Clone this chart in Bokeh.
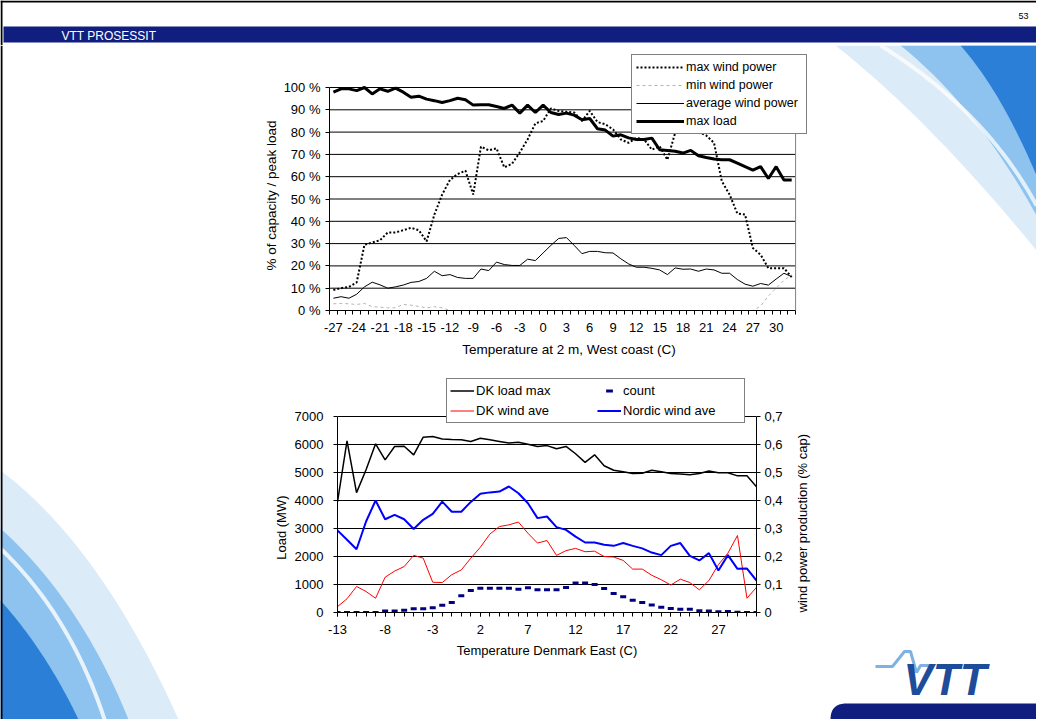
import math
import numpy as np
from bokeh.plotting import figure
from bokeh.models import Range1d, LinearAxis, FixedTicker, Legend, LegendItem, CustomJSTickFormatter, Title
from bokeh.layouts import column, row
from bokeh.embed import file_html
from bokeh.resources import INLINE
from bokeh.core.properties import value

FONT = "Liberation Sans"

# ---------------- Chart 1 data (West coast) ----------------
west_temps = list(range(-27, 33))
west_xticks = list(range(-27, 31, 3))
west_xlabels = [str(t) for t in west_xticks]
pct_ticks = list(range(0, 101, 10))
pct_labels = [f"{t} %" for t in pct_ticks]

max_wind = [9.2, 10, 10.6, 12.6, 29.5, 30.5, 31.5, 35, 35, 36,
            37.1, 36, 31, 43, 52, 58.5, 61.2, 62.7, 52, 73.5,
            71.8, 72.7, 64.2, 65.8, 70.9, 76.7, 83.9, 85, 90.6, 89.5,
            89.1, 88.8, 85, 89.5, 84.5, 83.5, 81.2, 76.7, 75.2, 77.4,
            76.7, 72.1, 73.6, 67.6, 79.7, 86, 84, 80, 78.5, 75.2,
            58, 52, 43.5, 43, 28, 25, 19, 19, 19, 15]
min_wind = [3.0, 3.2, 3.0, 2.7, 3.2, 1.7, 1.5, 1.2, 1.2, 2.7,
            2.4, 1.8, 1.2, 1.7, 1.2, 0, 0, 0, 0, 0,
            0, 0, 0, 0, 0, 0, 0, 0, 0, 0,
            0, 0, 0, 0, 0, 0, 0, 0, 0, 0,
            0, 0, 0, 0, 0, 0, 0, 0, 0, 0,
            0, 0, 0, 0, 0, 2, 6.5, 10, 13.5, 16]
avg_wind = [5.5, 6.2, 5.5, 7.3, 10.6, 12.7, 11.5, 10, 10.6, 11.4,
            12.6, 13, 14.4, 17.6, 15.6, 16.1, 14.8, 14.4, 14.4, 18.6,
            17.9, 21.7, 20.6, 20.2, 20.2, 23, 22.4, 25.8, 29.2, 32.3,
            32.7, 29.2, 25.5, 26.5, 26.5, 25.9, 25.8, 23.2, 20.9, 19.4,
            19.4, 18.9, 18.2, 16.1, 19.1, 18.5, 18.6, 17.6, 18.6, 18.2,
            16.7, 16.7, 13.9, 11.8, 10.9, 12.1, 11.4, 14.1, 16.7, 15.2]
max_load = [97.9, 99.4, 99.4, 98.6, 100, 97.1, 99.4, 98.3, 99.7, 97.9,
            95.6, 96.1, 94.8, 94.1, 93.3, 94.1, 95.2, 94.5, 92.1, 92.3,
            92.3, 91.5, 90.6, 92.1, 88.5, 92.1, 88.8, 92.1, 88.8, 87.9,
            88.5, 87.6, 85.5, 86.1, 81.5, 80.9, 78.2, 78.8, 77.4, 76.7,
            76.7, 77.3, 72.1, 71.8, 71.4, 70.6, 71.8, 69.4, 68.6, 67.9,
            67.6, 67.6, 66.1, 64.5, 63.0, 64.5, 59.2, 64.5, 58.5, 58.5]

# ---------------- Chart 2 data (Denmark East) ----------------
east_temps = list(range(-13, 32))
east_xticks = list(range(-13, 28, 5))
east_xlabels = [str(t) for t in east_xticks]
load_ticks = list(range(0, 7001, 1000))
load_labels = [str(t) for t in load_ticks]
cap_ticks = [0, 0.1, 0.2, 0.3, 0.4, 0.5, 0.6, 0.7]
cap_labels = ["0", "0,1", "0,2", "0,3", "0,4", "0,5", "0,6", "0,7"]

dk_load_max = [3950, 6130, 4280, 5100, 6024, 5452, 5930, 5940, 5630, 6260,
               6285, 6200, 6180, 6170, 6110, 6225, 6170, 6110, 6050, 6080,
               6010, 5930, 5960, 5850, 5930, 5670, 5360, 5630, 5240, 5080,
               5025, 4965, 4975, 5080, 5025, 4965, 4950, 4920, 4965, 5050,
               4990, 4990, 4880, 4880, 4490]
dk_wind_ave = [0.021, 0.049, 0.093, 0.075, 0.051, 0.126, 0.148, 0.164, 0.204, 0.194,
               0.108, 0.107, 0.135, 0.152, 0.194, 0.233, 0.28, 0.307, 0.313, 0.323,
               0.283, 0.248, 0.257, 0.204, 0.221, 0.229, 0.217, 0.219, 0.2, 0.198,
               0.186, 0.155, 0.155, 0.133, 0.117, 0.098, 0.119, 0.107, 0.081, 0.114,
               0.171, 0.212, 0.275, 0.051, 0.09]
nordic_wind_ave = [0.293, 0.26, 0.226, 0.325, 0.40, 0.333, 0.349, 0.333, 0.298, 0.331,
                   0.352, 0.396, 0.36, 0.36, 0.395, 0.424, 0.429, 0.432, 0.45, 0.426,
                   0.39, 0.337, 0.343, 0.305, 0.295, 0.271, 0.25, 0.25, 0.242, 0.238,
                   0.248, 0.238, 0.229, 0.214, 0.205, 0.238, 0.248, 0.202, 0.186, 0.212,
                   0.15, 0.205, 0.156, 0.157, 0.114]
count = [0, 0, 0, 0, 0, 50, 50, 80, 130, 130,
         170, 260, 360, 600, 790, 870, 870, 870, 870, 830,
         880, 810, 810, 810, 890, 1050, 1050, 1000, 860, 680,
         560, 440, 360, 270, 190, 140, 120, 120, 60, 50,
         25, 35, 10, 0, 0]


def style_axis(ax, size, title_size=None):
    ax.axis_line_color = "black"
    ax.axis_line_width = 1
    ax.major_label_text_font = FONT
    ax.major_label_text_font_size = size
    ax.major_label_text_color = "black"
    ax.axis_label_text_font = FONT
    ax.axis_label_text_font_size = title_size or size
    ax.axis_label_text_font_style = "normal"
    ax.axis_label_text_color = "black"
    ax.major_tick_line_color = "black"
    ax.minor_tick_line_color = "black"
    ax.major_tick_in = 0
    ax.minor_tick_in = 0


def qbez(p0, p1, p2, n=40):
    t = np.linspace(0, 1, n)
    x = (1 - t) ** 2 * p0[0] + 2 * (1 - t) * t * p1[0] + t ** 2 * p2[0]
    y = (1 - t) ** 2 * p0[1] + 2 * (1 - t) * t * p1[1] + t ** 2 * p2[1]
    return list(x), list(y)


def deco(width, height, x0, x1, y_top, y_bot):
    f = figure(width=width, height=height, x_range=Range1d(x0, x1), y_range=Range1d(y_bot, y_top),
               toolbar_location=None, output_backend="svg", min_border=0,
               x_axis_location=None, y_axis_location=None)
    f.grid.visible = False
    f.outline_line_color = None
    f.background_fill_color = "white"
    f.border_fill_color = "white"
    f.frame_align = False
    return f


W_TOTAL, H_TOTAL = 1036, 719
HDR_H = 45

# ---------------- Header ----------------
hdr = deco(W_TOTAL, HDR_H, 0, W_TOTAL, 0, HDR_H)
hdr.quad(left=3, right=W_TOTAL, top=26, bottom=42, fill_color="#101E80", line_color=None)
hdr.line([0, W_TOTAL], [1, 1], line_color="black", line_width=2)
hdr.line([1, 1], [0, HDR_H], line_color="black", line_width=2)
hdr.text(x=[61], y=[35], text=["VTT PROSESSIT"], text_font=value(FONT), text_font_size="12px",
         text_color="white", text_baseline="middle", text_align="left")
hdr.text(x=[1028], y=[15], text=["53"], text_font=value(FONT), text_font_size="9px",
         text_color="black", text_baseline="middle", text_align="right")

# ---------------- Left decoration ----------------
left = deco(260, H_TOTAL - HDR_H, 0, 260, HDR_H, H_TOTAL)
bx, by = qbez((178, 719), (100, 545), (0, 470))
left.patch([0] + bx + [0], [719] + by + [470], fill_color="#DCEBF8", line_color=None)
bx, by = qbez((128, 719), (80, 600), (0, 528))
left.patch([0] + bx + [0], [719] + by + [528], fill_color="#8DC3EE", line_color=None)
bx, by = qbez((78, 719), (45, 650), (0, 600))
left.patch([0] + bx + [0], [719] + by + [600], fill_color="#2C7FD6", line_color=None)
bx, by = qbez((0, 548), (70, 615), (104, 719))
left.line(bx, by, line_color="white", line_width=4, line_alpha=0.8)
left.line([1, 1], [HDR_H, H_TOTAL], line_color="black", line_width=2)

# ---------------- Right decoration ----------------
right = deco(W_TOTAL - 820, H_TOTAL - HDR_H, 820, W_TOTAL, HDR_H, H_TOTAL)
bx, by = qbez((W_TOTAL, 250), (930, 120), (835, 45))
right.patch(bx + [W_TOTAL], by + [45], fill_color="#DCEBF8", line_color=None)
bx, by = qbez((W_TOTAL, 215), (975, 105), (900, 45))
right.patch(bx + [W_TOTAL], by + [45], fill_color="#8DC3EE", line_color=None)
bx, by = qbez((W_TOTAL, 175), (1000, 90), (960, 45))
right.patch(bx + [W_TOTAL], by + [45], fill_color="#2C7FD6", line_color=None)
bx, by = qbez((880, 45), (985, 110), (W_TOTAL, 205))
right.line(bx, by, line_color="white", line_width=4, line_alpha=0.75)
bx, by = qbez((846, 703), (830, 703), (830, 719))
right.patch(bx + [W_TOTAL, W_TOTAL], by + [719, 703], fill_color="#101E80", line_color=None)
right.line([875, 892, 904, 910, 916, 920, 930], [666, 666, 651, 651, 672, 665, 665],
           line_color="#7FB2E3", line_width=3)
right.text(x=[903], y=[679], text=["VTT"], text_font=value(FONT), text_font_size="44px",
           text_font_style="bold italic", text_color="#1E4C9A", text_baseline="alphabetic")

# ---------------- Chart 1 ----------------
# plot area (px): left 326, right 795, top 87, bottom 310; frame extended to hold the legend
C1_W, C1_H = 560, 325
c1_left, c1_right, c1_top, c1_bot = 326, 795, 87, 310
c1_frame_right, c1_frame_top = 808, 53
x1_lo, x1_hi = west_temps[0] - 0.5, west_temps[-1] + 0.5
x1_end = x1_hi + (c1_frame_right - c1_right) * (x1_hi - x1_lo) / (c1_right - c1_left)
y1_end = 100 + (c1_top - c1_frame_top) * 100 / (c1_bot - c1_top)

p1 = figure(width=C1_W, height=C1_H, x_range=Range1d(x1_lo, x1_end), y_range=Range1d(0, y1_end),
            toolbar_location=None, output_backend="svg",
            min_border_left=c1_left - 260, min_border_right=820 - c1_frame_right,
            min_border_top=c1_frame_top - HDR_H, min_border_bottom=HDR_H + C1_H - c1_bot)
p1.frame_align = False
p1.background_fill_color = "white"
p1.border_fill_color = "white"
p1.outline_line_color = None
p1.grid.visible = False

xa = p1.xaxis[0]
style_axis(xa, "13px", "13.5px")
xa.bounds = (x1_lo, x1_hi)
xa.ticker = FixedTicker(ticks=west_xticks,
                        minor_ticks=[t - 0.5 for t in west_temps] + [x1_hi])
xa.major_label_overrides = dict(zip(west_xticks, west_xlabels))
xa.major_tick_out = 4
xa.major_tick_line_color = None
xa.minor_tick_out = 4
xa.major_label_standoff = 8
xa.axis_label = "Temperature at 2 m, West coast (C)"
xa.axis_label_standoff = 7

ya = p1.yaxis[0]
style_axis(ya, "13px", "13.5px")
ya.bounds = (0, 100)
ya.ticker = FixedTicker(ticks=pct_ticks)
ya.major_label_overrides = dict(zip(pct_ticks, pct_labels))
ya.major_tick_out = 4
ya.minor_tick_out = 0
ya.major_label_standoff = 5

# y-axis title, starting 40 px above the bottom of the plot area (reads upwards)
p1.add_layout(Title(text="% of capacity / peak load", align="left", offset=40,
                    standoff=3, text_font=FONT, text_font_size="13.5px",
                    text_font_style="normal", text_color="black"), "left")

# gridlines and right border of the plot area (from the tick list / category bounds)
grid_vals = pct_ticks[1:]
p1.segment(x0=[x1_lo] * len(grid_vals), x1=[x1_hi] * len(grid_vals), y0=grid_vals, y1=grid_vals,
           line_color="black", line_width=1)
p1.segment(x0=[x1_hi], x1=[x1_hi], y0=[0], y1=[100], line_color="#808080", line_width=1)

r_max = p1.line(west_temps, max_wind, line_color="black", line_width=2, line_dash="2 2")
r_min = p1.line(west_temps, min_wind, line_color="#b4b4b4", line_width=1, line_dash="3 3")
r_avg = p1.line(west_temps, avg_wind, line_color="black", line_width=1)
r_load = p1.line(west_temps, max_load, line_color="black", line_width=3)

leg1 = Legend(items=[LegendItem(label="max wind power", renderers=[r_max]),
                     LegendItem(label="min wind power", renderers=[r_min]),
                     LegendItem(label="average wind power", renderers=[r_avg]),
                     LegendItem(label="max load", renderers=[r_load])],
              location=(628 - c1_left, c1_bot - 134), orientation="vertical",
              padding=4, spacing=2, margin=0,
              label_height=16, glyph_height=16, glyph_width=48, label_standoff=2, label_width=116,
              label_text_font=FONT, label_text_font_size="12.5px", label_text_color="black",
              border_line_color="black", border_line_width=1,
              background_fill_color="white", background_fill_alpha=1)
p1.add_layout(leg1)

# ---------------- Chart 2 ----------------
C2_H = H_TOTAL - HDR_H - C1_H
c2_top0 = HDR_H + C1_H
c2_left, c2_right, c2_top, c2_bot = 337, 757, 416, 612
c2_frame_top = 378
y2_end = 7000 + (c2_top - c2_frame_top) * 7000 / (c2_bot - c2_top)
cap_end = 0.7 * y2_end / 7000

p2 = figure(width=560, height=C2_H, x_range=Range1d(east_temps[0], east_temps[-1]),
            y_range=Range1d(0, y2_end), toolbar_location=None, output_backend="svg",
            min_border_left=c2_left - 260, min_border_right=820 - c2_right,
            min_border_top=c2_frame_top - c2_top0, min_border_bottom=H_TOTAL - c2_bot)
p2.frame_align = False
p2.background_fill_color = "white"
p2.border_fill_color = "white"
p2.outline_line_color = None
p2.extra_y_ranges = {"cap": Range1d(0, cap_end)}
p2.xgrid.visible = False
p2.ygrid.ticker = FixedTicker(ticks=load_ticks)
p2.ygrid.grid_line_color = "black"

xb = p2.xaxis[0]
style_axis(xb, "13px")
xb.ticker = FixedTicker(ticks=east_xticks, minor_ticks=east_temps)
xb.major_label_overrides = dict(zip(east_xticks, east_xlabels))
xb.major_tick_out = 4
xb.minor_tick_out = 4
xb.major_label_standoff = 8
xb.axis_label = "Temperature Denmark East (C)"
xb.axis_label_standoff = 6

yb = p2.yaxis[0]
style_axis(yb, "13px")
yb.bounds = (0, 7000)
yb.ticker = FixedTicker(ticks=load_ticks)
yb.major_label_overrides = dict(zip(load_ticks, load_labels))
yb.major_tick_out = 4
yb.minor_tick_out = 0
yb.major_label_standoff = 10
yb.axis_label = "Load (MW)"
yb.axis_label_standoff = 10
yb.axis_label_orientation = math.pi / 2

yr = LinearAxis(y_range_name="cap", ticker=FixedTicker(ticks=cap_ticks), bounds=(0, 0.7),
                formatter=CustomJSTickFormatter(args=dict(vals=cap_ticks, labels=cap_labels),
                                                code="""
let best = 0, d = 1e9;
for (let i = 0; i < vals.length; i++) { const e = Math.abs(vals[i] - tick); if (e < d) { d = e; best = i; } }
return labels[best];
"""),
                axis_label="wind power production (% cap)")
style_axis(yr, "13px")
yr.major_tick_out = 4
yr.minor_tick_out = 0
yr.major_label_standoff = 4
yr.axis_label_standoff = 17
yr.axis_label_orientation = math.pi / 2
yr.axis_label_align = "start"
p2.add_layout(yr, "right")

r_l2 = p2.line(east_temps, dk_load_max, line_color="black", line_width=1.5)
r_cnt = p2.scatter(east_temps, count, marker="dash", size=6, line_color="#000080", line_width=3)
r_dk = p2.line(east_temps, dk_wind_ave, line_color="#FF0000", line_width=1, y_range_name="cap")
r_nw = p2.line(east_temps, nordic_wind_ave, line_color="#0000FF", line_width=2, y_range_name="cap")

leg2 = Legend(items=[LegendItem(label="DK load max", renderers=[r_l2]),
                     LegendItem(label="DK wind ave", renderers=[r_dk]),
                     LegendItem(label="count", renderers=[r_cnt]),
                     LegendItem(label="Nordic wind ave", renderers=[r_nw])],
              location=(446 - c2_left, c2_bot - 423), orientation="vertical", ncols=2,
              padding=3, spacing=3, margin=0,
              label_height=17, glyph_height=17, glyph_width=24, label_standoff=2, label_width=118,
              label_text_font=FONT, label_text_font_size="13px", label_text_color="black",
              border_line_color="black", border_line_width=1,
              background_fill_color="white", background_fill_alpha=1)
p2.add_layout(leg2)

layout = column(hdr, row(left, column(p1, p2), right))
open("out.html", "w").write(file_html(layout, INLINE))
